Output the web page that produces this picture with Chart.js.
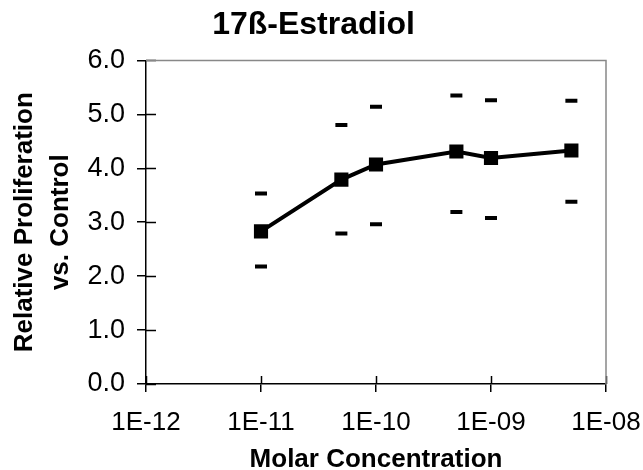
<!DOCTYPE html>
<html>
<head>
<meta charset="utf-8">
<script src="https://cdn.jsdelivr.net/npm/chart.js@4.4.1/dist/chart.umd.min.js"></script>
<style>
  html, body { margin: 0; padding: 0; background: #fff; }
  #wrap { width: 643px; height: 470px; }
</style>
</head>
<body>
<div id="wrap"><canvas id="chart" width="643" height="470"></canvas></div>
<script>
// tick labels of the log axis
const xTickValues = [1e-12, 1e-11, 1e-10, 1e-9, 1e-8];
const xTickLabels = ['1E-12', '1E-11', '1E-10', '1E-09', '1E-08'];

// concentrations (M) and measured values
const concentrations = [1e-11, 5e-11, 1e-10, 5e-10, 1e-9, 5e-9];
const meanValues  = [2.83, 3.79, 4.07, 4.31, 4.19, 4.33];
const upperValues = [3.53, 4.80, 5.14, 5.35, 5.26, 5.25];
const lowerValues = [2.18, 2.79, 2.96, 3.19, 3.08, 3.38];

const toPoints = vals => concentrations.map((c, i) => ({ x: c, y: vals[i] }));

// short inner tick halves + grey top/right frame
const framePlugin = {
  id: 'frame',
  afterDraw(chart) {
    const { ctx, chartArea: a, scales } = chart;
    ctx.save();
    ctx.strokeStyle = '#000';
    ctx.lineWidth = 1.5;
    ctx.beginPath();
    scales.y.ticks.forEach((t, i) => {
      const y = Math.round(scales.y.getPixelForTick(i)) + 0.5;
      ctx.moveTo(a.left, y);
      ctx.lineTo(a.left + 10, y);
    });
    scales.x.ticks.forEach((t, i) => {
      const x = Math.round(scales.x.getPixelForTick(i)) + 0.5;
      ctx.moveTo(x, a.bottom);
      ctx.lineTo(x, a.bottom - 8);
    });
    ctx.stroke();
    ctx.strokeStyle = '#888';
    ctx.beginPath();
    ctx.moveTo(a.left, a.top);
    ctx.lineTo(a.right, a.top);
    ctx.lineTo(a.right, a.bottom);
    ctx.stroke();
    ctx.restore();
  }
};

const capStyle = {
  showLine: false,
  pointStyle: 'line',
  pointRadius: 6,
  pointBorderWidth: 4,
  borderColor: '#000',
  backgroundColor: '#000'
};

new Chart(document.getElementById('chart'), {
  type: 'scatter',
  data: {
    datasets: [
      {
        label: 'Mean',
        data: toPoints(meanValues),
        showLine: true,
        borderColor: '#000',
        backgroundColor: '#000',
        borderWidth: 4,
        tension: 0,
        pointStyle: 'rect',
        pointRadius: 10,
        pointBorderWidth: 0
      },
      { label: 'Upper', data: toPoints(upperValues), ...capStyle },
      { label: 'Lower', data: toPoints(lowerValues), ...capStyle }
    ]
  },
  options: {
    responsive: false,
    animation: false,
    layout: { padding: { left: 0, right: 16, top: 0, bottom: 0 } },
    plugins: {
      legend: { display: false },
      tooltip: { enabled: false },
      title: {
        display: true,
        text: '17ß-Estradiol',
        color: '#000',
        font: { family: 'Liberation Sans, Arial, sans-serif', size: 32, weight: 'bold' },
        padding: { top: 6, bottom: 16 }
      }
    },
    scales: {
      x: {
        type: 'logarithmic',
        min: 1e-12,
        max: 1e-8,
        afterBuildTicks: s => { s.ticks = xTickValues.map(v => ({ value: v })); },
        afterFit: s => { s.height = 86; s.paddingRight = 37; },
        ticks: {
          callback: (v, i) => xTickLabels[i],
          color: '#000',
          padding: 15,
          autoSkip: false,
          maxRotation: 0,
          font: { family: 'Liberation Sans, Arial, sans-serif', size: 26 }
        },
        grid: { drawOnChartArea: false, tickLength: 8, color: '#000', lineWidth: 1.5 },
        border: { color: '#000', width: 1.5 },
        title: {
          display: true,
          text: 'Molar Concentration',
          color: '#000',
          font: { family: 'Liberation Sans, Arial, sans-serif', size: 26, weight: 'bold', lineHeight: 0.75 },
          padding: { top: 0, bottom: 0 }
        }
      },
      y: {
        min: 0,
        max: 6,
        afterFit: s => { s.width = 146; },
        ticks: {
          stepSize: 1,
          callback: v => v.toFixed(1),
          color: '#000',
          padding: 12,
          font: { family: 'Liberation Sans, Arial, sans-serif', size: 27 }
        },
        grid: { drawOnChartArea: false, tickLength: 9, color: '#000', lineWidth: 1.5 },
        border: { color: '#000', width: 1.5 },
        title: {
          display: true,
          text: ['Relative Proliferation', 'vs. Control'],
          color: '#000',
          font: { family: 'Liberation Sans, Arial, sans-serif', size: 26, weight: 'bold', lineHeight: 1.38 },
          padding: { top: 7, bottom: 0 }
        }
      }
    }
  },
  plugins: [framePlugin]
});
</script>
</body>
</html>
